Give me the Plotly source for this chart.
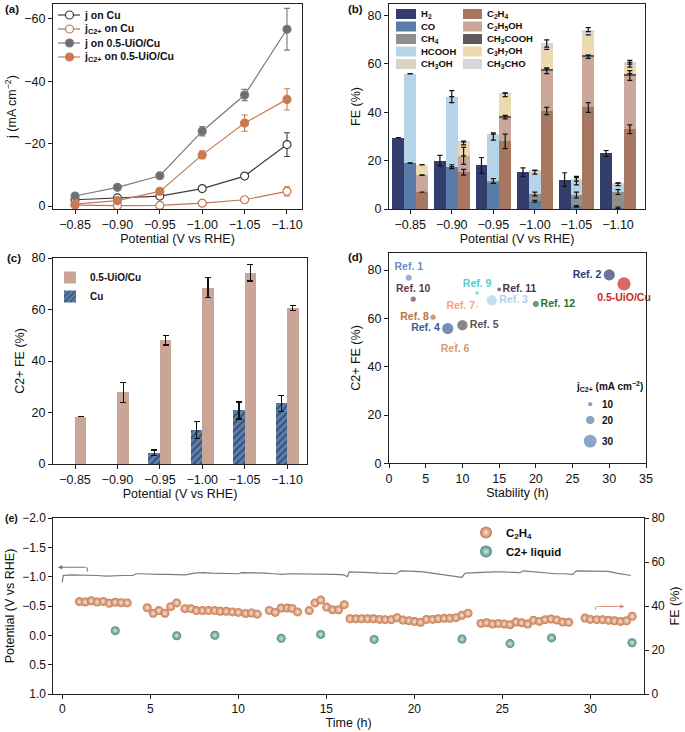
import plotly.graph_objects as go

W, H = 685, 732
FONT = "Liberation Sans, Arial, sans-serif"
NARROW = "Liberation Sans Narrow, Liberation Sans, Arial, sans-serif"

# --------------------------
# data
# --------------------------
potentials = [-0.85, -0.90, -0.95, -1.00, -1.05, -1.10]
pot_labels = ["−0.85", "−0.90", "−0.95", "−1.00", "−1.05", "−1.10"]

# (a) current density, mA cm-2
j_cu = [-2.0, -2.6, -3.2, -5.6, -9.6, -19.7]
j_cu_err = [0.3, 0.4, 0.4, 0.8, 0.8, 3.8]
jc2_cu = [-0.3, -0.1, -0.2, -0.9, -2.0, -4.7]
jc2_cu_err = [0.2, 0.3, 0.5, 0.7, 0.7, 1.5]
j_uio = [-3.2, -6.0, -9.7, -24.0, -35.6, -56.7]
j_uio_err = [0.3, 0.4, 0.5, 1.5, 1.8, 6.7]
jc2_uio = [-0.6, -1.7, -4.7, -16.4, -26.6, -34.2]
jc2_uio_err = [0.3, 0.4, 0.5, 1.2, 2.6, 3.4]

# (b) faradaic efficiency per product, %
fe_h2 = [29.5, 20.0, 18.0, 15.2, 12.2, 23.0]
fe_h2_err = [None, 2.2, 3.3, 1.8, 2.8, 1.2]
fe_co = [19.0, 17.5, 10.6, 3.2, 1.1, 0.5]
fe_co_err = [None, 0.8, None, 0.4, 0.3, 0.3]
fe_ch4 = [0, 0, 1.0, 3.0, 4.7, 6.5]
fe_ch4_err = [None, None, 1.0, 0.8, 1.2, 1.0]
fe_hcooh = [37.0, 29.0, 18.4, 9.0, 5.7, 3.2]
fe_hcooh_err = [None, 2.5, 1.5, 0.8, 1.5, 0.5]
fe_ch3oh = [0, 0, 1.0, 0.8, 1.0, 0.6]
fe_ch3oh_err = [None, None, None, None, 1.0, None]
fe_c2h4 = [7.0, 15.2, 28.0, 40.5, 42.0, 33.0]
fe_c2h4_err = [None, 1.2, 3.0, 1.5, 2.0, 1.8]
fe_c2h5oh = [7.0, 6.8, 10.0, 16.7, 21.0, 22.2]
fe_c2h5oh_err = [None, 3.5, 0.7, 1.2, 0.7, 2.0]
fe_ch3cooh = [0, 0, 0.5, 0.8, 0.6, 0.8]
fe_c3h7oh = [4.3, 5.3, 8.7, 8.0, 8.4, 3.7]
fe_c3h7oh_err = [None, 0.8, 0.7, None, None, 1.0]
fe_ch3cho = [0, 0.5, 0.8, 2.5, 2.2, 1.0]
fe_ch3cho_err = [None, None, None, 1.5, 0.8, 0.8]

# (c) C2+ FE, %
c2_uio = [18.3, 27.8, 48.0, 68.5, 74.3, 60.5]
c2_uio_err = [None, 4.0, 1.8, 3.8, 3.2, 1.0]
c2_cu = [None, None, 4.4, 13.2, 20.8, 23.5]
c2_cu_err = [None, None, 1.0, 3.2, 3.3, 3.2]

# (d) comparison with literature
ref_names = ["Ref. 1", "Ref. 2", "Ref. 3", "Ref. 4", "Ref. 5", "Ref. 6", "Ref. 7",
             "Ref. 8", "Ref. 9", "Ref. 10", "Ref. 11", "Ref. 12", "0.5-UiO/Cu"]
ref_stability = [2.7, 30, 14, 8, 10, 9, 12, 6, 12, 3.3, 15, 20, 32]
ref_fe = [76.8, 78.0, 67.5, 55.8, 57.2, 50.0, 65.0, 60.5, 70.5, 68.0, 72.0, 66.0, 74.3]
ref_jc2 = [14, 26, 24, 26, 24, 4, 4, 12, 8, 12, 9, 14, 31]
size_legend = [10, 20, 30]

# (e) long-term stability
pot_time = [0.0, 0.05, 0.5, 1.0, 1.5, 2.0, 2.5, 3.0, 3.5, 4.0, 4.2, 4.5, 5.0, 5.5, 6.0,
            6.5, 7.0, 7.5, 8.0, 8.5, 9.0, 9.5, 10.0, 10.2, 10.5, 11.0, 11.5, 12.0, 12.5,
            13.0, 13.5, 14.0, 14.5, 15.0, 15.5, 16.0, 16.2, 16.3, 16.5, 17.0, 17.5, 18.0,
            18.5, 19.0, 19.2, 19.5, 20.0, 20.5, 21.0, 21.5, 22.0, 22.5, 22.7, 22.9, 23.5,
            24.0, 24.5, 25.0, 25.5, 26.0, 26.2, 26.5, 27.0, 27.5, 28.0, 28.5, 29.0, 29.2,
            29.5, 30.0, 30.5, 31.0, 31.5, 32.0, 32.3]
pot_value = [-0.90, -1.02, -1.03, -1.03, -1.03, -1.02, -1.01, -1.02, -1.02, -1.02, -1.05,
             -1.05, -1.04, -1.04, -1.04, -1.03, -1.03, -1.06, -1.07, -1.06, -1.06, -1.05,
             -1.05, -1.07, -1.07, -1.06, -1.06, -1.05, -1.04, -1.05, -1.05, -1.05, -1.05,
             -1.04, -1.04, -1.03, -1.00, -1.08, -1.08, -1.08, -1.07, -1.06, -1.05, -1.05,
             -1.10, -1.10, -1.09, -1.08, -1.06, -1.04, -1.02, -1.00, -0.99, -1.06, -1.07,
             -1.08, -1.08, -1.08, -1.07, -1.07, -1.10, -1.09, -1.08, -1.06, -1.05, -1.05,
             -1.04, -1.10, -1.10, -1.09, -1.09, -1.09, -1.06, -1.04, -1.02]
c2h4_time = [0.97, 1.31, 1.65, 1.99, 2.33, 2.67, 3.01, 3.35, 3.69,
             4.83, 5.17, 5.49, 5.83, 6.16, 6.50,
             6.97, 7.31, 7.63, 7.97, 8.31, 8.66, 8.98, 9.32, 9.66, 10.0, 10.42, 10.76, 11.08,
             11.76, 12.1, 12.44, 12.78, 13.05, 13.37,
             14.03, 14.36, 14.68, 15.02, 15.36, 15.70, 16.02,
             16.35, 16.69, 17.01, 17.35, 17.69, 18.03, 18.35, 18.69, 19.02, 19.36, 19.70,
             20.02, 20.36, 20.70, 21.04, 21.36, 21.70, 22.03, 22.37, 22.71, 23.05,
             23.79, 24.11, 24.45, 24.78, 25.12, 25.44, 25.78, 26.1, 26.44, 26.77, 27.11,
             27.44, 27.77, 28.1, 28.43, 28.77,
             29.7, 30.0, 30.37, 30.7, 31.04, 31.38, 31.72, 32.06, 32.38]
c2h4_fe = [42.0, 41.8, 42.4, 41.8, 42.1, 41.2, 41.7, 41.5, 41.4,
           39.2, 36.7, 37.9, 36.7, 39.7, 41.4,
           38.8, 38.8, 37.9, 37.9, 37.9, 37.9, 37.6, 37.6, 37.3, 37.1, 36.6, 36.8, 36.3,
           38.0, 37.1, 39.1, 39.1, 38.9, 37.3,
           37.9, 41.4, 42.7, 39.5, 38.3, 38.3, 40.6,
           34.2, 34.2, 34.2, 34.2, 34.2, 33.9, 33.8, 33.8, 34.7, 33.6, 33.3,
           32.9, 32.6, 33.9, 33.9, 34.2, 34.4, 34.4, 34.7, 35.8, 36.7,
           32.1, 32.4, 31.8, 32.1, 31.8, 31.5, 32.7, 32.4, 31.8, 33.5, 33.0,
           33.8, 34.1, 33.6, 32.7, 32.6,
           34.5, 33.9, 33.8, 33.8, 33.5, 33.3, 33.0, 33.3, 35.3]
liq_time = [3.01, 6.5, 8.67, 12.44, 14.68, 17.72, 22.71, 25.44, 27.8, 32.37]
liq_fe = [28.8, 26.5, 26.7, 25.3, 27.1, 24.8, 25.0, 22.9, 25.5, 23.3]

# --------------------------
# colours
# --------------------------
C_H2, C_CO, C_CH4, C_HCOOH, C_CH3OH = "#343e6d", "#5b7bab", "#8f8f8f", "#b6d4e7", "#d8d4c2"
C_C2H4, C_C2H5OH, C_CH3COOH, C_C3H7OH, C_CH3CHO = "#a67862", "#caa79a", "#5c5a5a", "#ecdab0", "#d6d6d8"
C_UIO, C_CU = "#c9a598", "#5b7fb0"
ref_colors = ["#6c8dc4", "#2e3a78", "#a9d3e8", "#3a5e91", "#555555", "#d19c78", "#f4a582",
              "#b8733f", "#4dd0c8", "#6b3a40", "#4b3352", "#2e7032", "#c62a2a"]
ref_textpos = ["top center", "middle left", "middle right", "middle left", "middle right",
               "bottom center", "middle left", "middle left", "top center", "top center",
               "middle right", "middle right", "bottom center"]


def dom_x(a, b):
    return [a / W, b / W]


def dom_y(top, bottom):
    return [1 - bottom / H, 1 - top / H]


def stack_tops(*series):
    tops, run = [], [0] * len(series[0])
    for s in series:
        run = [r + v for r, v in zip(run, s)]
        tops.append(run)
    return tops


idx = list(range(len(potentials)))
fig = go.Figure()
shapes, annotations = [], []

# --------------------------
# (a) current density vs potential
# --------------------------
a_series = [
    ("j on Cu", j_cu, j_cu_err, "#3d3d3d", "white"),
    ("j<sub>C2+</sub> on Cu", jc2_cu, jc2_cu_err, "#c4764d", "white"),
    ("j on 0.5-UiO/Cu", j_uio, j_uio_err, "#7a7a7a", "#6e6e6e"),
    ("j<sub>C2+</sub> on 0.5-UiO/Cu", jc2_uio, jc2_uio_err, "#c97b50", "#c97b50"),
]
for k, (name, y, err, col, fill) in enumerate(a_series):
    fig.add_trace(go.Scatter(
        x=potentials, y=y, name=name, mode="lines+markers",
        line=dict(color=col, width=1.2),
        marker=dict(size=8, color=fill, line=dict(color=col, width=1.2)),
        error_y=dict(type="data", array=err, color=col, thickness=1.1, width=3),
        xaxis="x", yaxis="y", showlegend=False))
    # compact legend row
    yc = 15 + 14 * k
    shapes.append(dict(type="line", xref="paper", yref="paper", x0=58 / W, x1=80 / W,
                       y0=1 - yc / H, y1=1 - yc / H, line=dict(color=col, width=1.2)))
    shapes.append(dict(type="circle", xref="paper", yref="paper", x0=65.5 / W, x1=73.5 / W,
                       y0=1 - (yc + 4) / H, y1=1 - (yc - 4) / H, fillcolor=fill,
                       line=dict(color=col, width=1.2)))
    annotations.append(dict(text=f"<b>{name}</b>", xref="paper", yref="paper", x=82 / W,
                            y=1 - yc / H, xanchor="left", yanchor="middle", showarrow=False,
                            font=dict(family=FONT, size=10.5, color="#111")))

# --------------------------
# (b) FE distribution, three stacked bars per potential
# --------------------------
BW = 0.285
fig.add_trace(go.Bar(x=[i - BW for i in idx], y=fe_h2, width=BW,
                     marker=dict(color=C_H2, line=dict(width=0)),
                     xaxis="x2", yaxis="y2", showlegend=False))
mid = [(fe_co, C_CO), (fe_ch4, C_CH4), (fe_hcooh, C_HCOOH), (fe_ch3oh, C_CH3OH)]
right = [(fe_c2h4, C_C2H4), (fe_c2h5oh, C_C2H5OH), (fe_ch3cooh, C_CH3COOH),
         (fe_c3h7oh, C_C3H7OH), (fe_ch3cho, C_CH3CHO)]
for shift, group in [(0, mid), (BW, right)]:
    for vals, col in group:
        fig.add_trace(go.Bar(x=[i + shift for i in idx], y=vals, width=BW,
                             marker=dict(color=col, line=dict(width=0)),
                             xaxis="x2", yaxis="y2", showlegend=False))

# error bars on top of stacked segments (scatter layer sits above bars)
err_b = [(-BW, [fe_h2], [fe_h2_err]),
         (0, [fe_co, fe_ch4, fe_hcooh, fe_ch3oh], [fe_co_err, fe_ch4_err, fe_hcooh_err, fe_ch3oh_err]),
         (BW, [fe_c2h4, fe_c2h5oh, fe_ch3cooh, fe_c3h7oh, fe_ch3cho],
          [fe_c2h4_err, fe_c2h5oh_err, [None] * 6, fe_c3h7oh_err, fe_ch3cho_err])]
for shift, vals, errs in err_b:
    for top, err in zip(stack_tops(*vals), errs):
        fig.add_trace(go.Scatter(
            x=[i + shift for i in idx], y=top, mode="markers",
            marker=dict(size=1, color="rgba(0,0,0,0)"),
            error_y=dict(type="data", array=err, color="#111", thickness=1.2, width=2.5),
            xaxis="x2", yaxis="y2", showlegend=False, hoverinfo="skip"))

# --------------------------
# (c) C2+ FE comparison
# --------------------------
fig.add_trace(go.Bar(x=[i + 0.135 for i in idx], y=c2_uio, width=0.27, name="<b>0.5-UiO/Cu</b>",
                     marker=dict(color=C_UIO, line=dict(width=0)),
                     error_y=dict(type="data", array=c2_uio_err, color="#111", thickness=1.2, width=3),
                     xaxis="x3", yaxis="y3", legend="legend2"))
fig.add_trace(go.Bar(x=[i - 0.135 for i in idx], y=c2_cu, width=0.27, name="<b>Cu</b>",
                     marker=dict(color=C_CU, line=dict(width=0),
                                 pattern=dict(shape="/", fgcolor="#1a1a1a", bgcolor=C_CU,
                                              size=5, solidity=0.35)),
                     error_y=dict(type="data", array=c2_cu_err, color="#111", thickness=1.2, width=3),
                     xaxis="x3", yaxis="y3", legend="legend2"))

# --------------------------
# (d) C2+ FE vs stability, bubble size = j_C2+
# --------------------------
SIZE_K = 0.43
fig.add_trace(go.Scatter(
    x=ref_stability, y=ref_fe, mode="markers+text", text=[f"<b>{n}</b>" for n in ref_names],
    textposition=ref_textpos, textfont=dict(family=FONT, size=10.5, color=ref_colors),
    marker=dict(size=[j * SIZE_K for j in ref_jc2], color=ref_colors, line=dict(width=0)),
    cliponaxis=False, xaxis="x4", yaxis="y4", showlegend=False))
fig.add_trace(go.Scatter(
    x=[27.4] * 3, y=[24.5, 17.9, 9.2], mode="markers",
    marker=dict(size=[s * SIZE_K for s in size_legend], color=C_CU, line=dict(width=0)),
    xaxis="x4", yaxis="y4", showlegend=False, hoverinfo="skip"))

# --------------------------
# (e) stability test
# --------------------------
fig.add_trace(go.Scatter(x=pot_time, y=pot_value, mode="lines",
                         line=dict(color="#7b7b7b", width=1.2),
                         xaxis="x5", yaxis="y5", showlegend=False))
fig.add_trace(go.Scatter(x=c2h4_time, y=c2h4_fe, mode="markers", name="<b>C<sub>2</sub>H<sub>4</sub></b>",
                         marker=dict(size=9, color="#c8784d", line=dict(width=0),
                                     gradient=dict(type="radial", color="#f7e4d6")),
                         xaxis="x5", yaxis="y6", legend="legend3"))
fig.add_trace(go.Scatter(x=liq_time, y=liq_fe, mode="markers", name="<b>C2+ liquid</b>",
                         marker=dict(size=9, color="#4b8a80", line=dict(width=0),
                                     gradient=dict(type="radial", color="#d3e9e4")),
                         xaxis="x5", yaxis="y6", legend="legend3"))

# --------------------------
# axes
# --------------------------
ax = dict(showline=True, linecolor="#222", linewidth=1, mirror=True, ticks="outside",
          ticklen=4, tickcolor="#222", showgrid=False, zeroline=False, automargin=False,
          tickfont=dict(family=FONT, size=12.5, color="#111"),
          title_font=dict(family=FONT, size=12.5, color="#111"))
axe = dict(ax, tickfont=dict(family=NARROW, size=12, color="#111"),
           title_font=dict(family=NARROW, size=12.5, color="#111"))

fig.update_layout(
    xaxis=dict(ax, domain=dom_x(53, 302), anchor="y", range=[-0.824, -1.1177],
               tickvals=potentials, ticktext=pot_labels,
               title=dict(text="Potential (V vs RHE)", standoff=2)),
    yaxis=dict(ax, domain=dom_y(4, 209), anchor="x", range=[0.96, -64.8],
               tickvals=[0, -20, -40, -60],
               title=dict(text="j (mA cm<sup>−2</sup>)", standoff=4)),
    xaxis2=dict(ax, domain=dom_x(389, 645), anchor="y2", range=[-0.51, 5.65],
                tickvals=idx, ticktext=pot_labels,
                title=dict(text="Potential (V vs RHE)", standoff=2)),
    yaxis2=dict(ax, domain=dom_y(4, 209), anchor="x2", range=[0, 84.8],
                tickvals=[0, 20, 40, 60, 80], title=dict(text="FE (%)", standoff=4)),
    xaxis3=dict(ax, domain=dom_x(53, 307), anchor="y3", range=[-0.519, 5.47],
                tickvals=idx, ticktext=pot_labels,
                title=dict(text="Potential (V vs RHE)", standoff=2)),
    yaxis3=dict(ax, domain=dom_y(258, 464), anchor="x3", range=[0, 80],
                tickvals=[0, 20, 40, 60, 80], title=dict(text="C2+ FE (%)", standoff=4)),
    xaxis4=dict(ax, domain=dom_x(389, 646), anchor="y4", range=[0, 35], dtick=5,
                title=dict(text="Stability (h)", standoff=2)),
    yaxis4=dict(ax, domain=dom_y(252.7, 463.3), anchor="x4", range=[0, 87.2],
                tickvals=[0, 20, 40, 60, 80], title=dict(text="C2+ FE (%)", standoff=4)),
    xaxis5=dict(axe, domain=dom_x(53.3, 644), anchor="y5", range=[-0.51, 33.05], dtick=5,
                title=dict(text="Time (h)", standoff=2)),
    yaxis5=dict(axe, domain=dom_y(518, 694), anchor="x5", range=[1.0, -2.0], dtick=0.5,
                tickformat=".1f", title=dict(text="Potential (V vs RHE)", standoff=4)),
    yaxis6=dict(axe, anchor="x5", overlaying="y5", side="right", range=[0, 80],
                tickvals=[0, 20, 40, 60, 80], mirror=False,
                title=dict(text="FE (%)", standoff=6)),
)

leg = dict(bgcolor="rgba(0,0,0,0)", borderwidth=0, xanchor="left", yanchor="top",
           tracegroupgap=0, itemwidth=30, traceorder="normal")
fig.update_layout(
    legend2=dict(leg, x=50 / W, y=1 - 263 / H, font=dict(family=FONT, size=10, color="#111")),
    legend3=dict(leg, x=466 / W, y=1 - 518 / H, font=dict(family=NARROW, size=11.5, color="#111"),
                 itemsizing="constant"),
)

# --------------------------
# manual legend for (b), labels, arrows
# --------------------------
b_legend = [
    (396, 416, 419, [("H<sub>2</sub>", C_H2), ("CO", C_CO), ("CH<sub>4</sub>", C_CH4),
                     ("HCOOH", C_HCOOH), ("CH<sub>3</sub>OH", C_CH3OH)]),
    (463, 482, 485, [("C<sub>2</sub>H<sub>4</sub>", C_C2H4), ("C<sub>2</sub>H<sub>5</sub>OH", C_C2H5OH),
                     ("CH<sub>3</sub>COOH", C_CH3COOH), ("C<sub>3</sub>H<sub>7</sub>OH", C_C3H7OH),
                     ("CH<sub>3</sub>CHO", C_CH3CHO)]),
]
rows = [14, 26.5, 39, 51.5, 64]
for x0, x1, xt, items in b_legend:
    for yc, (label, col) in zip(rows, items):
        shapes.append(dict(type="rect", xref="paper", yref="paper", x0=x0 / W, x1=x1 / W,
                           y0=1 - (yc + 5) / H, y1=1 - (yc - 5) / H,
                           fillcolor=col, line=dict(width=0)))
        annotations.append(dict(text=f"<b>{label}</b>", xref="paper", yref="paper",
                                x=xt / W, y=1 - yc / H, xanchor="left", yanchor="middle",
                                showarrow=False, font=dict(family=FONT, size=9.5, color="#111")))

for lab, x, y, sz in [("(a)", 3, 9, 11.5), ("(b)", 346, 9, 11.5), ("(c)", 5, 258, 11.5),
                      ("(d)", 346, 257, 11.5), ("(e)", 3, 518, 10.5)]:
    annotations.append(dict(text=f"<b>{lab}</b>", xref="paper", yref="paper", x=x / W, y=1 - y / H,
                            xanchor="left", yanchor="middle", showarrow=False,
                            font=dict(family=FONT, size=sz, color="#111")))

# (d) size legend text
annotations.append(dict(text="<b>j<sub>C2+</sub> (mA cm<sup>−2</sup>)</b>", xref="x4", yref="y4",
                        x=30.0, y=31.6, showarrow=False,
                        font=dict(family=FONT, size=10, color="#111")))
for s, yv in zip(size_legend, [24.5, 17.9, 9.2]):
    annotations.append(dict(text=f"<b>{s}</b>", xref="x4", yref="y4", x=28.7, y=yv,
                            xanchor="left", showarrow=False,
                            font=dict(family=FONT, size=10, color="#111")))

# (e) axis arrows
annotations.append(dict(x=-0.25, y=-1.16, ax=1.42, ay=-1.16, xref="x5", yref="y5",
                        axref="x5", ayref="y5", text="", showarrow=True, arrowhead=2,
                        arrowsize=0.9, arrowwidth=1, arrowcolor="#777"))
shapes.append(dict(type="line", xref="x5", yref="y5", x0=1.42, x1=1.42, y0=-1.16, y1=-1.085,
                   line=dict(color="#777", width=1)))
annotations.append(dict(x=31.95, y=39.8, ax=30.3, ay=39.8, xref="x5", yref="y6",
                        axref="x5", ayref="y6", text="", showarrow=True, arrowhead=2,
                        arrowsize=0.9, arrowwidth=1, arrowcolor="#d4957a"))
shapes.append(dict(type="line", xref="x5", yref="y6", x0=30.3, x1=30.3, y0=38.2, y1=39.8,
                   line=dict(color="#d4957a", width=1)))

fig.update_layout(
    width=W, height=H, margin=dict(l=0, r=0, t=0, b=0),
    paper_bgcolor="white", plot_bgcolor="white", barmode="stack",
    shapes=shapes, annotations=annotations, showlegend=True,
    font=dict(family=FONT, color="#111"),
)

# the page body has a default 8px margin; drop it so the figure fills the window
fig.write_html("out.html", config={"displayModeBar": False},
               post_script="document.body.style.margin='0px';")
